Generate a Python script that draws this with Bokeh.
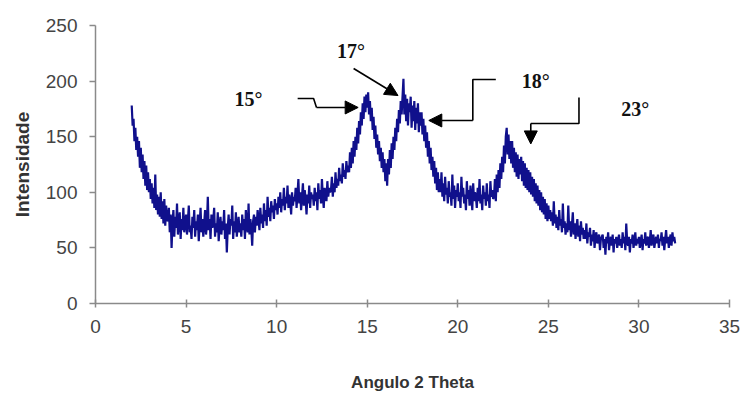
import numpy as np
from bokeh.plotting import figure
from bokeh.models import ColumnDataSource, FixedTicker, Arrow, NormalHead
from bokeh.core.properties import value
from bokeh.embed import file_html
from bokeh.resources import INLINE

# Intensities, one row per degree (step 0.05° 2θ), from 2.00° to 32.00°
intensity = [
    178, 160, 166, 146, 158, 138, 150, 132, 146, 122, 140, 118, 134, 112, 128, 106, 124, 102, 118, 100,
    112, 94, 108, 90, 104, 86, 116, 84, 98, 80, 96, 78, 100, 76, 92, 72, 94, 70, 88, 74,
    76, 86, 64, 80, 50, 72, 84, 60, 78, 68, 90, 62, 74, 82, 58, 76, 66, 86, 64, 72,
    80, 62, 74, 88, 64, 70, 58, 78, 68, 84, 60, 74, 66, 80, 56, 72, 86, 64, 76, 60,
    72, 84, 62, 70, 96, 66, 76, 58, 80, 68, 74, 86, 60, 72, 64, 82, 56, 70, 78, 62,
    74, 66, 84, 58, 72, 46, 68, 80, 62, 76, 70, 88, 58, 74, 64, 82, 60, 70, 78, 64,
    72, 60, 80, 66, 76, 58, 84, 70, 64, 90, 62, 76, 68, 52, 74, 80, 64, 78, 70, 84,
    76, 66, 86, 72, 80, 68, 90, 74, 84, 70, 96, 78, 86, 74, 92, 82, 88, 76, 94, 84,
    90, 80, 96, 86, 100, 82, 94, 88, 104, 84, 96, 90, 106, 86, 98, 92, 80, 100, 88, 96,
    92, 104, 86, 98, 112, 90, 100, 84, 96, 108, 88, 102, 94, 80, 98, 90, 106, 86, 100, 94,
    98, 88, 104, 92, 100, 84, 108, 94, 102, 90, 112, 96, 86, 104, 98, 92, 110, 96, 104, 100,
    102, 114, 96, 108, 100, 118, 104, 112, 106, 122, 110, 116, 108, 126, 114, 120, 112, 128, 118, 124,
    118, 136, 122, 140, 126, 146, 132, 150, 138, 158, 144, 164, 152, 172, 160, 180, 166, 186, 172, 188,
    176, 190, 170, 182, 164, 176, 156, 168, 148, 160, 140, 152, 134, 146, 128, 140, 122, 136, 118, 130,
    110, 126, 106, 130, 116, 138, 122, 144, 130, 150, 138, 158, 146, 166, 154, 174, 162, 182, 170, 186,
    202, 170, 188, 164, 184, 160, 180, 172, 186, 158, 178, 164, 182, 156, 176, 162, 180, 154, 172, 160,
    172, 152, 166, 146, 160, 140, 154, 132, 146, 126, 140, 120, 132, 114, 128, 108, 122, 102, 118, 100,
    112, 100, 118, 96, 108, 92, 114, 98, 104, 90, 110, 96, 100, 88, 116, 94, 106, 86, 102, 96,
    108, 92, 100, 86, 114, 96, 104, 90, 98, 84, 110, 94, 102, 88, 106, 96, 84, 108, 92, 100,
    96, 86, 104, 92, 112, 90, 98, 84, 106, 94, 100, 88, 108, 92, 98, 86, 110, 96, 102, 94,
    96, 112, 92, 116, 100, 120, 104, 126, 112, 132, 118, 142, 126, 150, 158, 134, 152, 130, 146, 126,
    146, 122, 140, 118, 136, 114, 134, 112, 130, 116, 132, 110, 128, 106, 126, 104, 122, 102, 120, 100,
    118, 98, 114, 96, 112, 92, 108, 90, 106, 88, 102, 84, 100, 82, 96, 80, 94, 76, 90, 74,
    88, 76, 84, 74, 82, 70, 92, 72, 80, 68, 78, 66, 84, 70, 76, 64, 90, 68, 74, 62,
    72, 64, 88, 66, 74, 60, 70, 82, 62, 72, 58, 68, 76, 60, 70, 56, 74, 62, 68, 58,
    66, 58, 72, 54, 64, 60, 68, 52, 62, 56, 66, 50, 60, 64, 54, 58, 62, 48, 58, 60,
    62, 50, 58, 44, 60, 54, 64, 48, 56, 60, 52, 62, 46, 58, 54, 60, 50, 56, 62, 52,
    58, 50, 64, 54, 60, 48, 72, 56, 52, 60, 46, 58, 54, 62, 50, 56, 64, 52, 58, 54,
    60, 50, 56, 62, 48, 58, 54, 64, 52, 58, 60, 50, 56, 66, 52, 58, 62, 50, 56, 60,
    54, 62, 50, 58, 56, 64, 52, 60, 48, 58, 66, 54, 60, 50, 58, 62, 52, 64, 56, 60,
    54,
]
# Scan positions (2θ): the instrument's regular 0.05° steps starting at 2.00°
two_theta = np.round(2.0 + 0.05 * np.arange(len(intensity)), 2)

x_ticks = [0, 5, 10, 15, 20, 25, 30, 35]
y_ticks = [0, 50, 100, 150, 200, 250]

# Peak labels
label_text = ["15°", "17°", "18°", "23°"]
label_x = [8.45, 14.1, 24.3, 29.8]
label_y = [184, 227, 200, 175]

# Annotation arrows: polyline bodies and final arrow segments
arrow_paths_x = [[11.16, 12.04, 12.2], [], [22.1, 20.83, 20.83], [26.69, 26.69, 24.03]]
arrow_paths_y = [[184.4, 184.4, 176.3], [], [201.4, 201.4, 164.6], [185.3, 161.9, 161.9]]
arrow_heads = [
    (12.2, 176.3, 14.5, 176.3),
    (14.25, 211.3, 16.7, 187.0),
    (20.83, 164.6, 18.4, 164.6),
    (24.03, 161.9, 24.03, 143.5),
]

p = figure(width=743, height=394, output_backend="svg", toolbar_location=None,
           x_range=(0, 35), y_range=(0, 250),
           min_border_left=95, min_border_right=14, min_border_top=25, min_border_bottom=91)
p.outline_line_color = None
p.xgrid.grid_line_color = None
p.ygrid.grid_line_color = None
p.background_fill_color = "white"
p.border_fill_color = "white"

src = ColumnDataSource(dict(x=two_theta, y=intensity))
p.line("x", "y", source=src, line_color="#10108c", line_width=2.2)

for xs, ys in zip(arrow_paths_x, arrow_paths_y):
    if xs:
        p.line(xs, ys, line_color="black", line_width=1.6)
for (x0, y0, x1, y1) in arrow_heads:
    p.add_layout(Arrow(end=NormalHead(size=13, fill_color="black", line_color="black"),
                       x_start=x0, y_start=y0, x_end=x1, y_end=y1,
                       line_color="black", line_width=1.6))

p.text(x=label_x, y=label_y, text=label_text, text_font=value("Liberation Serif"),
       text_font_style="bold", text_font_size="20px", text_align="center",
       text_baseline="middle", text_color="#111111")

for ax in (p.xaxis, p.yaxis):
    ax.axis_line_color = "#8a8a8a"
    ax.axis_line_width = 1.5
    ax.major_tick_line_color = "#8a8a8a"
    ax.major_tick_line_width = 1.5
    ax.minor_tick_line_color = None
    ax.major_label_text_font = "Liberation Sans"
    ax.major_label_text_font_size = "19px"
    ax.major_label_text_color = "#444444"
    ax.axis_label_text_font = "Liberation Sans"
    ax.axis_label_text_font_style = "bold"
    ax.axis_label_text_color = "#333333"

p.xaxis.ticker = FixedTicker(ticks=x_ticks)
p.yaxis.ticker = FixedTicker(ticks=y_ticks)
p.xaxis.major_tick_in = 4
p.xaxis.major_tick_out = 4
p.yaxis.major_tick_in = 0
p.yaxis.major_tick_out = 6
p.xaxis.major_label_standoff = 12
p.yaxis.major_label_standoff = 12
p.xaxis.axis_label = "Angulo 2 Theta"
p.yaxis.axis_label = "Intensidade"
p.xaxis.axis_label_text_font_size = "17px"
p.yaxis.axis_label_text_font_size = "19px"
p.xaxis.axis_label_standoff = 37
p.yaxis.axis_label_standoff = 10

open("out.html", "w").write(file_html(p, INLINE))
